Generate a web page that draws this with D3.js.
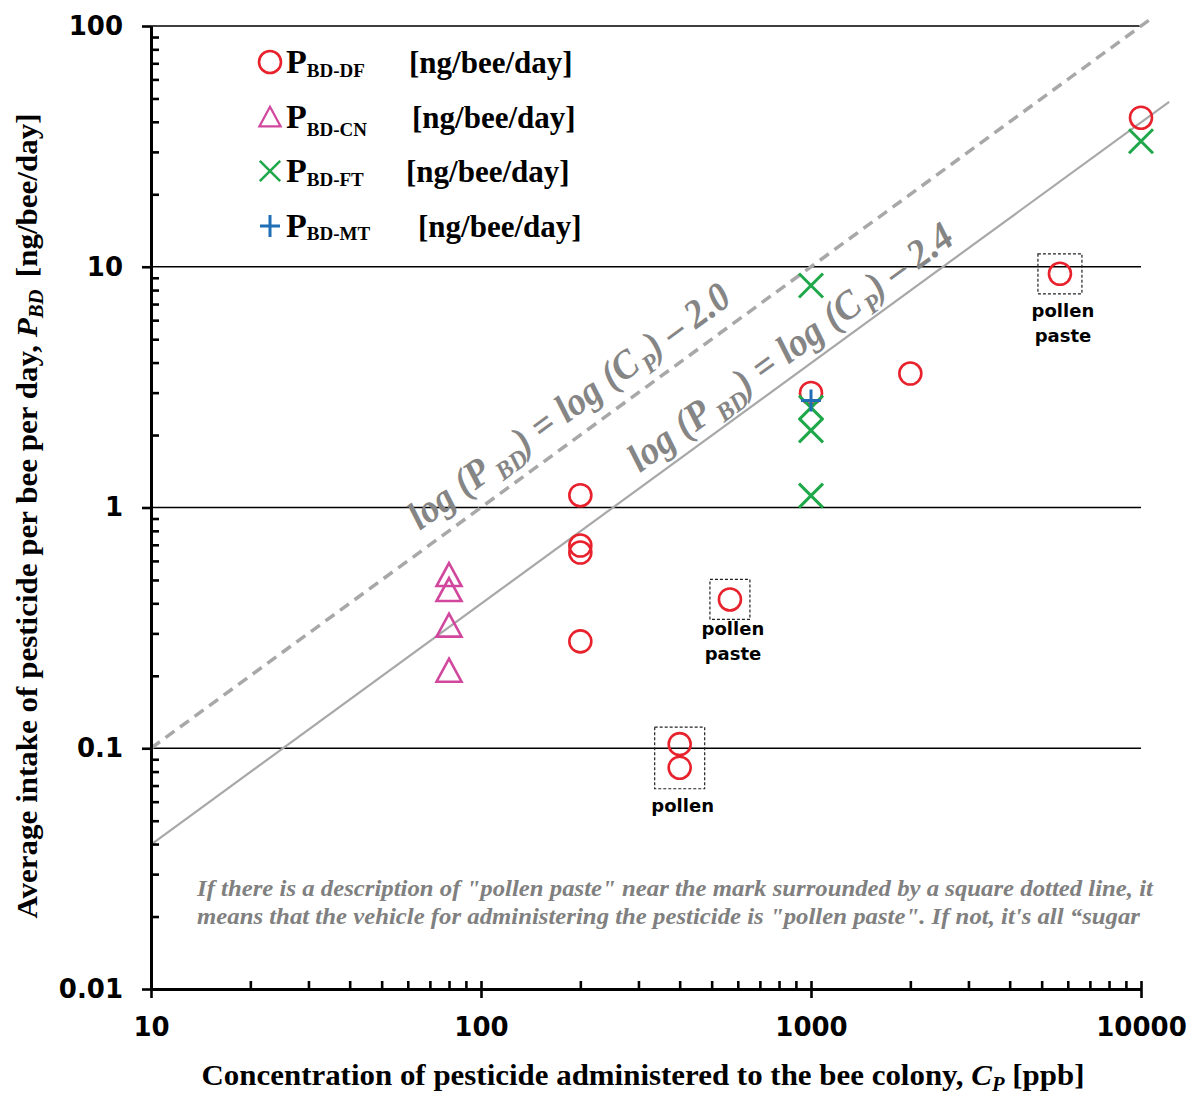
<!DOCTYPE html>
<html>
<head>
<meta charset="utf-8">
<script src="https://cdn.jsdelivr.net/npm/d3@7"></script>
<style>
  body { margin: 0; background: #fff; }
</style>
</head>
<body>
<script>
// values
const dfConc   = [200, 200, 200, 200, 400, 400, 568, 1000, 2000, 5680, 10000];
const dfIntake = [1.125, 0.695, 0.65, 0.278, 0.104, 0.083, 0.415, 2.99, 3.6, 9.35, 41.6];
const cnConc   = [80, 80, 80, 80];
const cnIntake = [0.524, 0.454, 0.323, 0.21];
const ftConc   = [1000, 1000, 1000, 1000, 10000];
const ftIntake = [8.36, 2.6, 2.09, 1.12, 33.2];
const mtConc   = [1000];
const mtIntake = [2.78];

const xTicks = [10, 100, 1000, 10000];
const xTickLabels = ["10", "100", "1000", "10000"];
const yTicks = [0.01, 0.1, 1, 10, 100];
const yTickLabels = ["0.01", "0.1", "1", "10", "100"];

// reference lines: log(P) = log(C) - k
const refK = [2.0, 2.4];
const refEnd = [10790, 12170];

const legendSubs = ["BD-DF", "BD-CN", "BD-FT", "BD-MT"];

const W = 1194, H = 1097;
const serif = "'Liberation Serif', 'Times New Roman', serif";
const sans = "'DejaVu Sans', sans-serif";

const x = d3.scaleLog().domain([10, 10000]).range([151, 1141]);
const y = d3.scaleLog().domain([0.01, 100]).range([989, 26]);

const svg = d3.select("body").append("svg")
    .attr("width", W)
    .attr("height", H);

// marker shapes
const shapes = {
  circle:   { d: d3.arc()({innerRadius: 0, outerRadius: 11, startAngle: 0, endAngle: 2 * Math.PI}) , color: "#E8222C", w: 2.6 },
  triangle: { d: "M0,-12L12.5,11L-12.5,11Z", color: "#D2479E", w: 2.6 },
  cross:    { d: "M-12,-12L12,12M-12,12L12,-12", color: "#1FA84A", w: 3 },
  plus:     { d: "M-10,0H10M0,-11V11", color: "#1F6EB6", w: 3 }
};

// horizontal grid lines
svg.append("g")
  .selectAll("line")
  .data(yTicks.slice(1))
  .join("line")
    .attr("x1", x(10)).attr("x2", x(10000))
    .attr("y1", d => y(d)).attr("y2", d => y(d))
    .attr("stroke", "#000")
    .attr("stroke-width", 1.5);

// reference lines
const refLine = (k, end) => {
  const c = [10, end];
  return d3.line()
    .x(d => x(d))
    .y(d => y(d / Math.pow(10, k)))(c);
};

svg.append("path")
    .attr("d", refLine(refK[0], refEnd[0]))
    .attr("fill", "none")
    .attr("stroke", "#A8A8A8")
    .attr("stroke-width", 3.5)
    .attr("stroke-dasharray", "11,7");

svg.append("path")
    .attr("d", refLine(refK[1], refEnd[1]))
    .attr("fill", "none")
    .attr("stroke", "#A8A8A8")
    .attr("stroke-width", 2.2);

// equation labels along the lines
const angle = -Math.atan((y(1) - y(10)) / (x(100) - x(10))) * 180 / Math.PI;

const eqLabel = (c0, k, off, len, tail) => {
  const g = svg.append("g")
      .attr("transform", `translate(${x(c0)},${y(c0 / Math.pow(10, k))}) rotate(${angle})`);
  const t = g.append("text")
      .attr("y", -off)
      .attr("textLength", len)
      .attr("lengthAdjust", "spacingAndGlyphs")
      .attr("font-family", serif)
      .attr("font-style", "italic")
      .attr("font-weight", "bold")
      .attr("font-size", 40)
      .attr("fill", "#858585");
  t.append("tspan").text("log (P");
  t.append("tspan").attr("dx", 6).attr("dy", 9).attr("font-size", 26).text("BD");
  t.append("tspan").attr("dy", -9).text(") = log (C");
  t.append("tspan").attr("dx", 3).attr("dy", 9).attr("font-size", 26).text("P");
  t.append("tspan").attr("dy", -9).text(") \u2013 " + tail);
};
eqLabel(70, refK[0], 17, 388, "2.0");
eqLabel(318, refK[1], 12, 392, "2.4");

// axes
const xMinor = [];
const yMinor = [];
for (let p = 1; p < 4; p++) for (let m = 2; m < 10; m++) xMinor.push(m * Math.pow(10, p));
for (let p = -2; p < 2; p++) for (let m = 2; m < 10; m++) yMinor.push(m * Math.pow(10, p));

const styleAxis = g => {
  g.select(".domain").attr("stroke", "#000").attr("stroke-width", 3);
  g.selectAll(".tick line").attr("stroke", "#000").attr("stroke-width", 2.6);
  g.selectAll(".tick text")
    .attr("font-family", sans)
    .attr("font-weight", "bold")
    .attr("font-size", 26)
    .attr("fill", "#000");
};

svg.append("g")
    .attr("transform", `translate(0,${y(0.01)})`)
    .call(d3.axisTop(x).tickValues(xMinor.concat(xTicks)).tickSize(8).tickSizeOuter(0).tickFormat(""))
    .call(styleAxis);

svg.append("g")
    .attr("transform", `translate(0,${y(0.01)})`)
    .call(d3.axisBottom(x).tickValues(xTicks).tickSize(9).tickSizeOuter(0).tickPadding(20)
      .tickFormat((d, i) => xTickLabels[i]))
    .call(styleAxis);

svg.append("g")
    .attr("transform", `translate(${x(10)},0)`)
    .call(d3.axisRight(y).tickValues(yMinor).tickSize(8).tickSizeOuter(0).tickFormat(""))
    .call(styleAxis);

svg.append("g")
    .attr("transform", `translate(${x(10)},0)`)
    .call(d3.axisLeft(y).tickValues(yTicks).tickSize(9).tickSizeOuter(0).tickPadding(19)
      .tickFormat((d, i) => yTickLabels[i]))
    .call(styleAxis);

// annotation boxes around the pollen / pollen paste points
const boxes = [
  { pts: [6], px: 20, py: 20, gap: 16, lines: ["pollen", "paste"] },
  { pts: [9], px: 22, py: 20, gap: 23, lines: ["pollen", "paste"] },
  { pts: [4, 5], px: 25, py: 17, gap: 23, lines: ["pollen"] }
];
boxes.forEach(b => {
  const xs = b.pts.map(i => x(dfConc[i]));
  const ys = b.pts.map(i => y(dfIntake[i]));
  const x0 = d3.min(xs) - b.px, x1 = d3.max(xs) + b.px;
  const y0 = d3.min(ys) - b.py, y1 = d3.max(ys) + b.py + (b.pts.length > 1 ? 4 : 0);
  svg.append("rect")
      .attr("x", x0).attr("y", y0)
      .attr("width", x1 - x0).attr("height", y1 - y0)
      .attr("fill", "none")
      .attr("stroke", "#222")
      .attr("stroke-width", 1.2)
      .attr("stroke-dasharray", "3,2");
  svg.append("g")
    .selectAll("text")
    .data(b.lines)
    .join("text")
      .attr("x", (x0 + x1) / 2 + 3)
      .attr("y", (d, i) => y1 + b.gap + i * 25)
      .attr("text-anchor", "middle")
      .attr("font-family", sans)
      .attr("font-weight", "bold")
      .attr("font-size", 18)
      .attr("fill", "#000")
      .text(d => d);
});

// data points
const series = [
  { xs: dfConc, ys: dfIntake, shape: shapes.circle },
  { xs: cnConc, ys: cnIntake, shape: shapes.triangle },
  { xs: ftConc, ys: ftIntake, shape: shapes.cross },
  { xs: mtConc, ys: mtIntake, shape: shapes.plus }
];
series.forEach(s => {
  svg.append("g")
    .selectAll("path")
    .data(s.xs.map((c, i) => [c, s.ys[i]]))
    .join("path")
      .attr("transform", d => `translate(${x(d[0])},${y(d[1])})`)
      .attr("d", s.shape.d)
      .attr("fill", "none")
      .attr("stroke", s.shape.color)
      .attr("stroke-width", s.shape.w);
});

// legend
const legendRows = [62, 117, 171, 226];
const legendUnitX = [409, 412, 406, 418];
const legendSubDy = [4, 8, 4, 3];
series.forEach((s, i) => {
  const g = svg.append("g").attr("transform", `translate(270,${legendRows[i]})`);
  g.append("path")
      .attr("d", s.shape.d)
      .attr("transform", i === 1 || i === 2 ? "scale(0.85)" : null)
      .attr("fill", "none")
      .attr("stroke", s.shape.color)
      .attr("stroke-width", s.shape.w);
  const t = g.append("text")
      .attr("x", 16).attr("y", 11)
      .attr("font-family", serif)
      .attr("font-weight", "bold")
      .attr("font-size", 34)
      .attr("fill", "#000");
  t.append("tspan").text("P");
  t.append("tspan").attr("dy", legendSubDy[i]).attr("font-size", 19).text(legendSubs[i]);
  g.append("text")
      .attr("x", legendUnitX[i] - 270).attr("y", 11)
      .attr("font-family", serif)
      .attr("font-weight", "bold")
      .attr("font-size", 31)
      .attr("fill", "#000")
      .text("[ng/bee/day]");
});

// note text
const noteLines = [
  "If there is a description of \"pollen paste\" near the mark surrounded by a square dotted line, it",
  "means that the vehicle for administering the pesticide is \"pollen paste\". If not, it's all \u201Csugar"
];
const noteLen = [956, 943];
svg.append("g")
  .selectAll("text")
  .data(noteLines)
  .join("text")
    .attr("x", 197)
    .attr("y", (d, i) => 896 + i * 28)
    .attr("textLength", (d, i) => noteLen[i])
    .attr("lengthAdjust", "spacingAndGlyphs")
    .attr("font-family", serif)
    .attr("font-style", "italic")
    .attr("font-weight", "bold")
    .attr("font-size", 24)
    .attr("fill", "#808080")
    .text(d => d);

// axis titles
const xt = svg.append("text")
    .attr("x", 643).attr("y", 1085)
    .attr("text-anchor", "middle")
    .attr("textLength", 883)
    .attr("lengthAdjust", "spacingAndGlyphs")
    .attr("font-family", serif)
    .attr("font-weight", "bold")
    .attr("font-size", 30)
    .attr("fill", "#000");
xt.append("tspan").text("Concentration of pesticide administered to the bee colony, ");
xt.append("tspan").attr("font-style", "italic").text("C");
xt.append("tspan").attr("font-style", "italic").attr("font-size", 20).attr("dy", 6).text("P");
xt.append("tspan").attr("dy", -6).text(" [ppb]");

const yt = svg.append("text")
    .attr("transform", "translate(37,516) rotate(-90)")
    .attr("text-anchor", "middle")
    .attr("textLength", 805)
    .attr("lengthAdjust", "spacingAndGlyphs")
    .attr("font-family", serif)
    .attr("font-weight", "bold")
    .attr("font-size", 30)
    .attr("fill", "#000");
yt.append("tspan").text("Average intake of pesticide per bee per day, ");
yt.append("tspan").attr("font-style", "italic").text("P");
yt.append("tspan").attr("font-style", "italic").attr("font-size", 20).attr("dy", 6).text("BD");
yt.append("tspan").attr("dy", -6).attr("dx", 12).text("[ng/bee/day]");
</script>
</body>
</html>
